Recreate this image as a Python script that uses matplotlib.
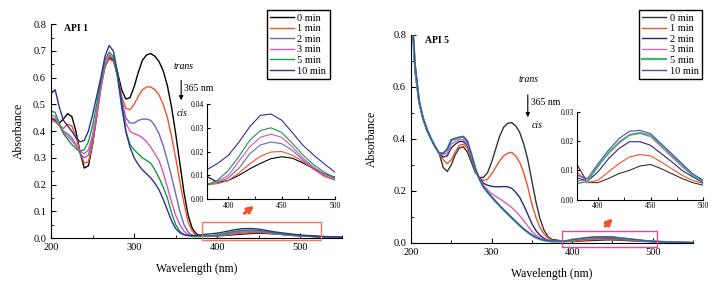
import matplotlib
matplotlib.use('Agg')
from matplotlib import pyplot as plt
from matplotlib.patches import Rectangle
from matplotlib.ticker import MultipleLocator

plt.rcParams['font.family'] = ['Liberation Serif', 'DejaVu Serif']

# wavelength grid (nm): 5 nm up to 375, 10 nm over the inset window, then tail
WL = [200, 205, 210, 215, 220, 225, 230, 235, 240, 245, 250, 255, 260, 265,
      270, 275, 280, 285, 290, 295, 300, 305, 310, 315, 320, 325, 330, 335,
      340, 345, 350, 355, 360, 365, 370, 375,
      380, 390, 400, 410, 420, 430, 440, 450, 460, 470, 480, 490, 500,
      520, 550]

LABELS = ['0 min', '1 min', '2 min', '3 min', '5 min', '10 min']

# ---- API 1 ----
API1_0 = [0.45, 0.44, 0.43, 0.445, 0.465, 0.455, 0.40, 0.32, 0.262, 0.27, 0.35, 0.46, 0.57, 0.645,
          0.675, 0.665, 0.62, 0.555, 0.52, 0.525, 0.565, 0.62, 0.665, 0.685, 0.69, 0.68, 0.66, 0.625,
          0.57, 0.49, 0.39, 0.28, 0.17, 0.085, 0.035, 0.015,
          0.0095, 0.007, 0.0078, 0.010, 0.0127, 0.015, 0.017, 0.0178, 0.0172, 0.0152, 0.0128, 0.0106, 0.0092,
          0.006, 0.002]
API1_1 = [0.44, 0.435, 0.42, 0.41, 0.425, 0.42, 0.38, 0.32, 0.28, 0.285, 0.35, 0.45, 0.56, 0.64,
          0.67, 0.66, 0.61, 0.53, 0.485, 0.48, 0.50, 0.53, 0.555, 0.565, 0.565, 0.555, 0.535, 0.50,
          0.45, 0.38, 0.30, 0.21, 0.13, 0.06, 0.025, 0.01,
          0.006, 0.0065, 0.0078, 0.011, 0.0148, 0.018, 0.0198, 0.020, 0.0185, 0.0158, 0.0125, 0.0095, 0.008,
          0.005, 0.002]
API1_2 = [0.45, 0.445, 0.42, 0.40, 0.39, 0.375, 0.35, 0.315, 0.30, 0.31, 0.37, 0.46, 0.56, 0.645,
          0.68, 0.67, 0.61, 0.52, 0.45, 0.43, 0.43, 0.44, 0.445, 0.445, 0.44, 0.42, 0.39, 0.345,
          0.29, 0.23, 0.165, 0.10, 0.05, 0.022, 0.01, 0.007,
          0.0064, 0.007, 0.0089, 0.013, 0.019, 0.0228, 0.024, 0.0233, 0.0205, 0.0165, 0.013, 0.010, 0.008,
          0.005, 0.002]
API1_3 = [0.46, 0.455, 0.42, 0.395, 0.38, 0.365, 0.345, 0.325, 0.315, 0.33, 0.385, 0.47, 0.565, 0.65,
          0.685, 0.675, 0.61, 0.51, 0.43, 0.40, 0.39, 0.385, 0.375, 0.36, 0.34, 0.315, 0.29, 0.245,
          0.19, 0.135, 0.085, 0.05, 0.025, 0.012, 0.008, 0.006,
          0.006, 0.0075, 0.0099, 0.016, 0.0219, 0.026, 0.0273, 0.026, 0.022, 0.0172, 0.0135, 0.0106, 0.0085,
          0.005, 0.002]
API1_5 = [0.475, 0.47, 0.43, 0.39, 0.37, 0.35, 0.335, 0.325, 0.33, 0.36, 0.42, 0.50, 0.59, 0.665,
          0.695, 0.68, 0.60, 0.49, 0.40, 0.35, 0.33, 0.315, 0.30, 0.29, 0.28, 0.255, 0.225, 0.19,
          0.15, 0.095, 0.05, 0.025, 0.013, 0.008, 0.006, 0.005,
          0.0057, 0.008, 0.012, 0.018, 0.0247, 0.0288, 0.030, 0.028, 0.0235, 0.0185, 0.0145, 0.0113, 0.0089,
          0.005, 0.002]
API1_10 = [0.54, 0.555, 0.49, 0.44, 0.42, 0.40, 0.375, 0.36, 0.365, 0.40, 0.46, 0.53, 0.60, 0.68,
           0.72, 0.70, 0.62, 0.50, 0.40, 0.34, 0.30, 0.275, 0.255, 0.24, 0.225, 0.205, 0.18, 0.145,
           0.105, 0.065, 0.035, 0.02, 0.012, 0.01, 0.01, 0.01,
           0.0124, 0.015, 0.0184, 0.024, 0.0304, 0.0352, 0.0358, 0.0332, 0.028, 0.0226, 0.0185, 0.0148, 0.0113,
           0.007, 0.003]

# ---- API 5 ----
API5_0 = [0.95, 0.66, 0.54, 0.475, 0.43, 0.40, 0.37, 0.345, 0.29, 0.275, 0.30, 0.34, 0.365, 0.37,
          0.35, 0.31, 0.27, 0.252, 0.252, 0.27, 0.31, 0.36, 0.41, 0.445, 0.46, 0.463, 0.45, 0.425,
          0.38, 0.32, 0.24, 0.16, 0.095, 0.05, 0.025, 0.013,
          0.012, 0.0058, 0.0058, 0.0072, 0.0089, 0.010, 0.0115, 0.012, 0.0106, 0.0089, 0.0072, 0.0058, 0.0049,
          0.003, 0.001]
API5_1 = [0.95, 0.67, 0.545, 0.48, 0.435, 0.40, 0.37, 0.345, 0.32, 0.305, 0.32, 0.35, 0.375, 0.38,
          0.365, 0.325, 0.28, 0.25, 0.24, 0.245, 0.265, 0.29, 0.315, 0.335, 0.345, 0.348, 0.335, 0.31,
          0.27, 0.215, 0.15, 0.10, 0.06, 0.035, 0.02, 0.01,
          0.0095, 0.0058, 0.0066, 0.0095, 0.0123, 0.0146, 0.0154, 0.015, 0.0129, 0.0106, 0.0083, 0.0066, 0.0055,
          0.003, 0.001]
API5_2 = [0.95, 0.68, 0.545, 0.48, 0.435, 0.40, 0.37, 0.345, 0.33, 0.335, 0.365, 0.38, 0.39, 0.39,
          0.375, 0.33, 0.28, 0.25, 0.23, 0.222, 0.218, 0.216, 0.216, 0.217, 0.216, 0.21, 0.195, 0.175,
          0.145, 0.11, 0.075, 0.048, 0.03, 0.018, 0.011, 0.008,
          0.0075, 0.0062, 0.0095, 0.014, 0.0175, 0.0198, 0.0198, 0.0186, 0.0158, 0.013, 0.010, 0.0078, 0.0058,
          0.003, 0.001]
API5_3 = [0.95, 0.68, 0.545, 0.48, 0.435, 0.40, 0.37, 0.345, 0.34, 0.345, 0.38, 0.39, 0.397, 0.397,
          0.38, 0.335, 0.28, 0.245, 0.222, 0.205, 0.19, 0.18, 0.17, 0.16, 0.148, 0.137, 0.122, 0.105,
          0.085, 0.065, 0.045, 0.03, 0.02, 0.013, 0.009, 0.007,
          0.0065, 0.0065, 0.0112, 0.0158, 0.0192, 0.022, 0.0226, 0.0215, 0.0181, 0.0146, 0.0112, 0.0083, 0.0063,
          0.003, 0.001]
API5_5 = [0.95, 0.68, 0.545, 0.48, 0.435, 0.40, 0.37, 0.345, 0.345, 0.36, 0.395, 0.40, 0.405, 0.408,
          0.39, 0.34, 0.285, 0.245, 0.215, 0.195, 0.177, 0.16, 0.143, 0.127, 0.112, 0.097, 0.082, 0.067,
          0.053, 0.041, 0.03, 0.021, 0.015, 0.01, 0.008, 0.006,
          0.0055, 0.0062, 0.0115, 0.016, 0.0197, 0.0222, 0.0229, 0.022, 0.0186, 0.0152, 0.0118, 0.0083, 0.0063,
          0.003, 0.001]
API5_10 = [0.95, 0.69, 0.55, 0.48, 0.435, 0.40, 0.37, 0.345, 0.345, 0.36, 0.397, 0.403, 0.407, 0.41,
           0.392, 0.342, 0.286, 0.246, 0.216, 0.196, 0.178, 0.161, 0.144, 0.128, 0.113, 0.098, 0.083, 0.068,
           0.054, 0.042, 0.031, 0.022, 0.016, 0.011, 0.009, 0.008,
           0.0083, 0.0072, 0.0123, 0.0169, 0.0209, 0.0234, 0.0237, 0.0226, 0.0192, 0.0158, 0.0123, 0.0089, 0.0066,
           0.0035, 0.0015]

COLORS_1 = ['#000000', '#f0532a', '#6a6ab8', '#d456b6', '#17994a', '#2e3192']
COLORS_5 = ['#333333', '#f0532a', '#25287e', '#d862b8', '#3fb374', '#4b4fae']
WIDTHS_5 = [1.0, 1.0, 1.0, 1.0, 1.6, 1.0]


def style_axes(ax, fs):
    for s in ['top', 'right']:
        ax.spines[s].set_visible(False)
    ax.tick_params(which='major', direction='in', length=3.5, width=0.8, labelsize=fs)
    ax.tick_params(which='minor', direction='in', length=2, width=0.6)


def draw_panel(fig, rect, inset_rect, series, colors, widths, title, ymajor, yminor,
               inset_ylim, box, box_color, arrow, note, legend_pos, ylabelpad):
    ax = fig.add_axes(rect)
    lines = []
    for ys, c, w, lab in zip(series, colors, widths, LABELS):
        ln, = ax.plot(WL, ys, color=c, lw=w, label=lab)
        lines.append(ln)
    ax.set_xlim(200, 550)
    ax.set_ylim(0, 0.8)
    ax.xaxis.set_major_locator(MultipleLocator(100))
    ax.xaxis.set_minor_locator(MultipleLocator(50))
    ax.yaxis.set_major_locator(MultipleLocator(ymajor))
    ax.yaxis.set_minor_locator(MultipleLocator(yminor))
    style_axes(ax, 7.5)
    ax.set_xlabel('Wavelength (nm)', fontsize=8.5, labelpad=8)
    ax.set_ylabel('Absorbance', fontsize=8.5, labelpad=ylabelpad)
    ax.text(title[1], title[2], title[0], fontsize=7, fontweight='bold', va='center')

    # trans -> cis annotation
    tx, ty, ax0, ay0, ay1, nx, ny, cx, cy = note
    ax.text(tx, ty, 'trans', fontsize=7, style='italic', ha='center', va='center')
    ax.annotate('', xy=(ax0, ay1), xytext=(ax0, ay0),
                arrowprops=dict(arrowstyle='-|>', color='black', lw=0.8, mutation_scale=6))
    ax.text(nx, ny, '365 nm', fontsize=7, ha='left', va='center')
    ax.text(cx, cy, 'cis', fontsize=7, style='italic', ha='center', va='center')

    # highlight box and arrow to the inset
    x0, y0, x1, y1 = box
    ax.add_patch(Rectangle((x0, y0), x1 - x0, y1 - y0, fill=False, ec=box_color,
                           lw=1.0, clip_on=False, zorder=5))
    ax.annotate('', xy=(arrow[2], arrow[3]), xytext=(arrow[0], arrow[1]),
                arrowprops=dict(arrowstyle='-|>', color='#f0532a', lw=2.2, mutation_scale=9))

    leg = ax.legend(handles=lines, loc='upper left', bbox_to_anchor=legend_pos,
                    bbox_transform=fig.transFigure, fontsize=7.5, frameon=True,
                    fancybox=False, edgecolor='black', framealpha=1, borderpad=0.35,
                    handlelength=2.3, handletextpad=0.3, labelspacing=0.12, borderaxespad=0)
    leg.get_frame().set_linewidth(1.0)

    ins = fig.add_axes(inset_rect)
    for ys, c, w in zip(series, colors, widths):
        ins.plot(WL, ys, color=c, lw=0.8 if w < 1.5 else 1.2)
    ins.set_xlim(380, 500)
    ins.set_ylim(0, inset_ylim)
    ins.xaxis.set_major_locator(MultipleLocator(50))
    ins.xaxis.set_minor_locator(MultipleLocator(25))
    ins.yaxis.set_major_locator(MultipleLocator(0.01))
    ins.yaxis.set_major_formatter('{x:.2f}')
    ins.patch.set_alpha(0)
    style_axes(ins, 5.5)
    ins.tick_params(which='major', length=2.5, pad=2)
    return ax


fig = plt.figure(figsize=(7.21, 2.91), dpi=100)

draw_panel(fig, [0.0707, 0.182, 0.4036, 0.735], [0.2871, 0.316, 0.1775, 0.3265],
           [API1_0, API1_1, API1_2, API1_3, API1_5, API1_10], COLORS_1, [1.0] * 6,
           ('API 1', 215.5, 0.785), 0.1, 0.05, 0.04,
           (381.5, -0.007, 525, 0.059), '#f07a5c', (430, 0.086, 447, 0.127),
           (359, 0.64, 356.6, 0.60, 0.505, 359.5, 0.56, 358, 0.467), (0.370, 0.966), 6)

draw_panel(fig, [0.570, 0.165, 0.3911, 0.715], [0.8003, 0.3144, 0.1748, 0.3007],
           [API5_0, API5_1, API5_2, API5_3, API5_5, API5_10], COLORS_5, WIDTHS_5,
           ('API 5', 217, 0.78), 0.2, 0.1, 0.03,
           (387, -0.014, 505, 0.045), '#e8479c', (438.6, 0.057, 453, 0.102),
           (346, 0.627, 345, 0.58, 0.473, 349, 0.542, 356, 0.45), (0.886, 0.966), 11)

fig.savefig('out.png', dpi=100)
plt.close()
